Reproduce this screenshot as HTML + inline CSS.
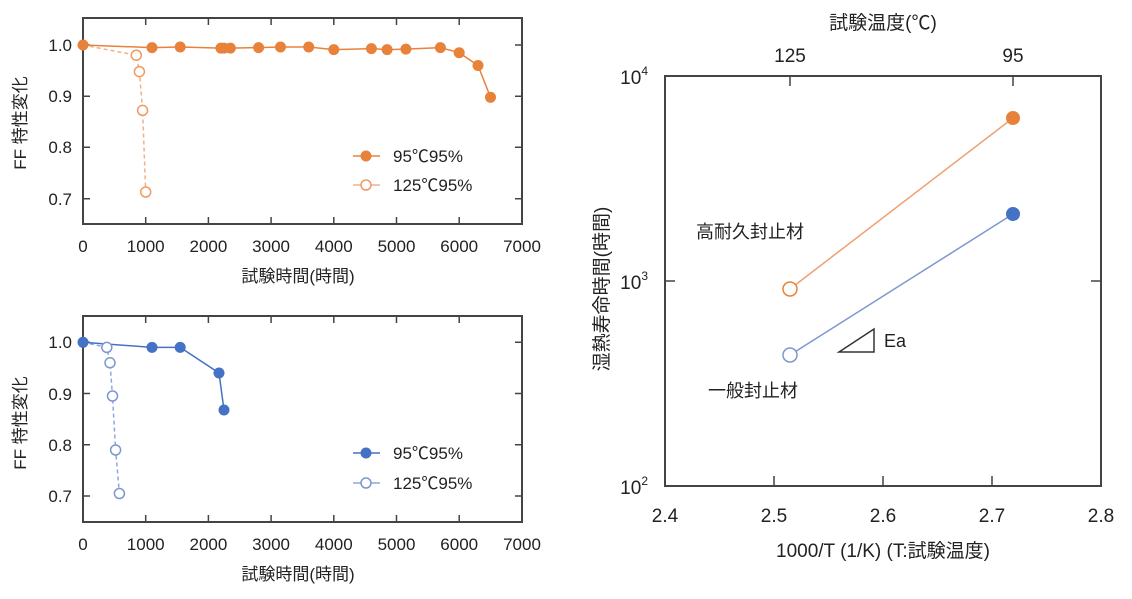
<!DOCTYPE html>
<html><head><meta charset="utf-8"><style>
html,body{margin:0;padding:0;background:#fff;}
svg{display:block;font-family:"Liberation Sans","Noto Sans CJK JP",sans-serif;}
</style></head><body>
<svg width="1132" height="599" viewBox="0 0 1132 599" xmlns="http://www.w3.org/2000/svg">
<g fill="none" stroke="#444" stroke-width="2">
<rect x="83" y="18" width="439" height="206"/>
<rect x="83" y="316" width="439" height="206"/>
<rect x="665" y="76" width="436" height="410"/>
</g>
<g stroke="#444" stroke-width="1.5">
<path d="M145.7 18v7M208.4 18v7M271.1 18v7M333.8 18v7M396.5 18v7M459.2 18v7
M145.7 224v-7M208.4 224v-7M271.1 224v-7M333.8 224v-7M396.5 224v-7M459.2 224v-7
M83 45h7M83 96.3h7M83 147.3h7M83 198.7h7M522 45h-7M522 96.3h-7M522 147.3h-7M522 198.7h-7"/>
<path d="M145.7 316v7M208.4 316v7M271.1 316v7M333.8 316v7M396.5 316v7M459.2 316v7
M145.7 522v-7M208.4 522v-7M271.1 522v-7M333.8 522v-7M396.5 522v-7M459.2 522v-7
M83 342.3h7M83 393.5h7M83 444.7h7M83 496h7M522 342.3h-7M522 393.5h-7M522 444.7h-7M522 496h-7"/>
<path d="M774 486v-10M883 486v-10M992 486v-10M790 76v10M1013 76v10M665 281h10M1101 281h-10"/>
</g>
<g font-size="17" fill="#222" text-anchor="end">
<text x="72" y="51">1.0</text><text x="72" y="102">0.9</text><text x="72" y="153">0.8</text><text x="72" y="205">0.7</text>
<text x="72" y="348">1.0</text><text x="72" y="400">0.9</text><text x="72" y="451">0.8</text><text x="72" y="502">0.7</text>
</g>
<g font-size="17" fill="#222" text-anchor="middle">
<text x="83" y="252">0</text><text x="145.7" y="252">1000</text><text x="208.4" y="252">2000</text><text x="271.1" y="252">3000</text><text x="333.8" y="252">4000</text><text x="396.5" y="252">5000</text><text x="459.2" y="252">6000</text><text x="522" y="252">7000</text>
<text x="83" y="550">0</text><text x="145.7" y="550">1000</text><text x="208.4" y="550">2000</text><text x="271.1" y="550">3000</text><text x="333.8" y="550">4000</text><text x="396.5" y="550">5000</text><text x="459.2" y="550">6000</text><text x="522" y="550">7000</text>
<text x="298" y="282">試験時間(時間)</text>
<text x="298" y="580">試験時間(時間)</text>
<text transform="translate(26,123) rotate(-90)">FF 特性変化</text>
<text transform="translate(26,423) rotate(-90)">FF 特性変化</text>
</g>
<g stroke="#F2B089" stroke-width="1.5" stroke-dasharray="4,3" fill="none">
<polyline points="83,45 136.3,55.2 139.4,71.6 142.6,110.4 145.7,192"/>
</g>
<g stroke="#E8823A" stroke-width="1.5" fill="none">
<polyline points="83,45 152,47.6 180.2,47 220.9,48.1 224,48.1 230.4,48.1 258.6,47.6 280.5,47 308.7,47 333.8,49.6 371.4,48.6 387.1,49.6 405.9,49.1 440.4,47.6 459.2,52.7 478,65.5 490.5,97.3"/>
</g>
<g fill="#E8823A">
<circle cx="83" cy="45" r="5.5"/><circle cx="152" cy="47.6" r="5.5"/><circle cx="180.2" cy="47" r="5.5"/><circle cx="220.9" cy="48.1" r="5.5"/><circle cx="224" cy="48.1" r="5.5"/><circle cx="230.4" cy="48.1" r="5.5"/><circle cx="258.6" cy="47.6" r="5.5"/><circle cx="280.5" cy="47" r="5.5"/><circle cx="308.7" cy="47" r="5.5"/><circle cx="333.8" cy="49.6" r="5.5"/><circle cx="371.4" cy="48.6" r="5.5"/><circle cx="387.1" cy="49.6" r="5.5"/><circle cx="405.9" cy="49.1" r="5.5"/><circle cx="440.4" cy="47.6" r="5.5"/><circle cx="459.2" cy="52.7" r="5.5"/><circle cx="478" cy="65.5" r="5.5"/><circle cx="490.5" cy="97.3" r="5.5"/>
</g>
<g fill="#fff" stroke="#EE9A64" stroke-width="1.5">
<circle cx="136.3" cy="55.2" r="5"/><circle cx="139.4" cy="71.6" r="5"/><circle cx="142.6" cy="110.4" r="5"/><circle cx="145.7" cy="192" r="5"/>
</g>
<line x1="353" y1="156" x2="380" y2="156" stroke="#E8823A" stroke-width="1.5"/><circle cx="366" cy="156" r="5.5" fill="#E8823A"/>
<line x1="353" y1="185" x2="380" y2="185" stroke="#F2B089" stroke-width="1.5"/><circle cx="366" cy="185" r="5" fill="#fff" stroke="#EE9A64" stroke-width="1.5"/>
<g font-size="17" fill="#222"><text x="393" y="162">95℃95%</text><text x="393" y="191">125℃95%</text>
<text x="393" y="459">95℃95%</text><text x="393" y="489">125℃95%</text></g>
<g stroke="#8FA8D8" stroke-width="1.5" stroke-dasharray="4,3" fill="none">
<polyline points="83,342.3 106.8,347.4 110,362.8 112.5,396 115.6,450 119.4,493.5"/>
</g>
<polyline points="83,342.3 152,347.4 180.2,347.4 219,373 224,410" stroke="#4472C4" stroke-width="1.5" fill="none"/>
<g fill="#4472C4">
<circle cx="83" cy="342.3" r="5.5"/><circle cx="152" cy="347.4" r="5.5"/><circle cx="180.2" cy="347.4" r="5.5"/><circle cx="219" cy="373" r="5.5"/><circle cx="224" cy="410" r="5.5"/>
</g>
<g fill="#fff" stroke="#7D97CF" stroke-width="1.5">
<circle cx="106.8" cy="347.4" r="5"/><circle cx="110" cy="362.8" r="5"/><circle cx="112.5" cy="396" r="5"/><circle cx="115.6" cy="450" r="5"/><circle cx="119.4" cy="493.5" r="5"/>
</g>
<line x1="353" y1="453" x2="380" y2="453" stroke="#4472C4" stroke-width="1.5"/><circle cx="366" cy="453" r="5.5" fill="#4472C4"/>
<line x1="353" y1="483" x2="380" y2="483" stroke="#8FA8D8" stroke-width="1.5"/><circle cx="366" cy="483" r="5" fill="#fff" stroke="#7D97CF" stroke-width="1.5"/>
<g font-size="19" fill="#222" text-anchor="middle">
<text x="883" y="29">試験温度(℃)</text>
<text x="790" y="62">125</text><text x="1013" y="62">95</text>
<text x="665" y="522">2.4</text><text x="774" y="522">2.5</text><text x="883" y="522">2.6</text><text x="992" y="522">2.7</text><text x="1101" y="522">2.8</text>
<text x="883" y="557">1000/T (1/K) (T:試験温度)</text>
<text transform="translate(608,289) rotate(-90)">湿熱寿命時間(時間)</text>
</g>
<g font-size="19" fill="#222" text-anchor="end">
<text x="648" y="84">10<tspan font-size="12" dy="-9">4</tspan></text>
<text x="648" y="289">10<tspan font-size="12" dy="-9">3</tspan></text>
<text x="648" y="494">10<tspan font-size="12" dy="-9">2</tspan></text>
</g>
<line x1="790" y1="289" x2="1013" y2="118" stroke="#EDA072" stroke-width="1.5"/>
<line x1="790" y1="355" x2="1013" y2="214" stroke="#7D97CF" stroke-width="1.5"/>
<circle cx="790" cy="289" r="7" fill="#fff" stroke="#E8823A" stroke-width="1.5"/>
<circle cx="1013" cy="118" r="7" fill="#E8823A"/>
<circle cx="790" cy="355" r="7" fill="#fff" stroke="#7D97CF" stroke-width="1.5"/>
<circle cx="1013" cy="214" r="7" fill="#4472C4"/>
<polygon points="839,352 874,352 874,329" fill="none" stroke="#333" stroke-width="1.5"/>
<g font-size="18" fill="#222">
<text x="884" y="347">Ea</text>
<text x="696" y="238">高耐久封止材</text>
<text x="708" y="397">一般封止材</text>
</g>
</svg>
</body></html>
